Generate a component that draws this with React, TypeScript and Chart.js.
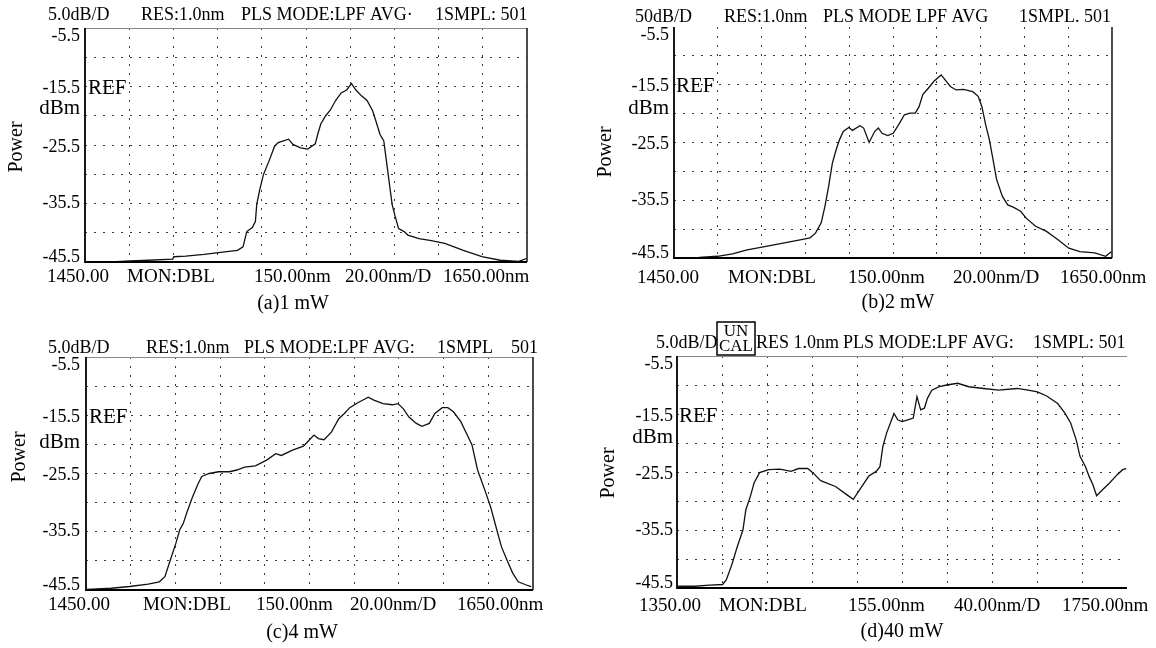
import React, { useEffect, useRef } from "react";
import { Chart, registerables } from "chart.js";

Chart.register(...registerables);

// ---------------- data ----------------
const aWavelength = [1450.0, 1462.1, 1470.4, 1478.8, 1489.7, 1490.2, 1495.6, 1503.9, 1512.3, 1519.0, 1521.5, 1523.2, 1525.7, 1527.1, 1527.7, 1529.1, 1530.7, 1533.2, 1535.8, 1537.4, 1542.1, 1544.1, 1547.5, 1550.8, 1554.2, 1555.5, 1556.7, 1558.9, 1560.9, 1563.4, 1565.9, 1568.4, 1570.6, 1572.6, 1575.1, 1577.6, 1580.1, 1581.8, 1583.5, 1585.2, 1586.8, 1588.0, 1589.0, 1590.2, 1591.9, 1594.4, 1596.1, 1601.1, 1606.1, 1612.8, 1621.2, 1629.6, 1637.9, 1646.3, 1649.7];
const aPower = [-45.5, -45.5, -45.3, -45.2, -45.0, -44.6, -44.5, -44.2, -43.8, -43.5, -42.9, -40.3, -39.6, -38.6, -35.7, -33.1, -30.6, -28.3, -25.7, -25.1, -24.5, -25.4, -26.0, -26.2, -25.3, -23.4, -21.9, -20.5, -19.6, -17.9, -16.6, -16.1, -15.0, -16.1, -17.1, -17.9, -19.6, -21.6, -23.7, -24.8, -29.4, -32.9, -35.7, -37.5, -39.8, -40.3, -40.9, -41.5, -41.8, -42.3, -43.5, -44.6, -45.2, -45.4, -44.9];

const bWavelength = [1450.5, 1461.5, 1469.9, 1476.7, 1483.4, 1490.2, 1498.6, 1507.0, 1512.1, 1514.6, 1517.2, 1518.9, 1520.6, 1522.3, 1524.0, 1525.6, 1527.3, 1529.8, 1531.5, 1534.9, 1536.6, 1539.1, 1541.6, 1543.3, 1545.0, 1547.6, 1550.1, 1552.6, 1555.2, 1557.7, 1560.2, 1561.9, 1563.6, 1566.1, 1568.7, 1572.0, 1573.7, 1576.2, 1578.8, 1582.2, 1586.4, 1588.9, 1590.6, 1592.3, 1594.0, 1595.7, 1597.3, 1599.9, 1602.4, 1604.9, 1608.3, 1610.8, 1615.1, 1620.1, 1625.2, 1630.3, 1635.3, 1642.1, 1647.1, 1649.7];
const bPower = [-45.5, -45.4, -45.2, -44.8, -44.1, -43.6, -43.0, -42.4, -42.0, -41.2, -39.4, -36.6, -33.1, -29.1, -26.8, -25.0, -23.6, -22.9, -23.4, -22.6, -23.0, -25.5, -23.6, -23.0, -23.9, -24.3, -23.9, -22.4, -20.7, -20.4, -20.4, -19.3, -17.2, -16.1, -14.9, -13.8, -14.6, -15.8, -16.4, -16.3, -16.7, -17.5, -19.3, -22.4, -25.0, -28.5, -31.9, -34.8, -36.3, -36.7, -37.4, -38.6, -40.0, -40.9, -42.3, -43.8, -44.4, -44.6, -45.2, -44.4];

const cWavelength = [1450.5, 1461.3, 1469.5, 1477.8, 1482.8, 1485.3, 1487.7, 1490.2, 1491.9, 1493.5, 1495.2, 1497.7, 1500.2, 1501.8, 1505.1, 1509.3, 1514.2, 1517.5, 1520.9, 1525.8, 1530.8, 1534.9, 1537.4, 1542.4, 1547.3, 1549.8, 1552.0, 1554.0, 1556.5, 1559.8, 1563.1, 1565.6, 1568.0, 1571.4, 1576.3, 1578.8, 1582.9, 1587.1, 1589.6, 1592.0, 1594.5, 1597.8, 1600.3, 1603.6, 1606.1, 1609.4, 1611.9, 1614.4, 1617.7, 1620.2, 1622.7, 1625.2, 1628.5, 1631.0, 1633.4, 1635.9, 1638.4, 1640.9, 1643.4, 1646.7, 1649.2];
const cPower = [-45.4, -45.2, -44.9, -44.5, -44.1, -43.2, -40.4, -37.5, -35.2, -34.1, -32.1, -29.5, -27.2, -26.0, -25.5, -25.2, -25.2, -24.9, -24.4, -24.2, -23.2, -22.1, -22.4, -21.5, -20.8, -19.8, -18.9, -19.5, -19.7, -18.4, -16.1, -15.2, -14.2, -13.4, -12.4, -12.9, -13.5, -13.7, -13.5, -14.4, -15.8, -16.9, -17.4, -16.9, -15.2, -14.2, -14.2, -14.9, -16.6, -18.6, -20.6, -24.9, -28.4, -31.2, -34.6, -38.1, -40.4, -42.6, -44.1, -44.6, -44.9];

const dWavelength = [1351.0, 1365.8, 1379.0, 1390.5, 1393.8, 1398.7, 1403.7, 1408.6, 1411.2, 1415.2, 1418.5, 1423.4, 1431.6, 1441.5, 1451.4, 1458.0, 1466.2, 1471.2, 1477.7, 1490.9, 1500.8, 1506.7, 1512.3, 1520.5, 1527.1, 1530.4, 1533.0, 1536.3, 1539.6, 1542.9, 1546.2, 1550.2, 1555.1, 1560.0, 1563.3, 1566.6, 1569.9, 1572.6, 1576.5, 1583.1, 1589.7, 1599.5, 1609.4, 1622.6, 1635.8, 1652.2, 1662.1, 1670.3, 1678.6, 1688.4, 1695.0, 1700.0, 1704.9, 1708.2, 1713.1, 1716.4, 1719.7, 1723.0, 1728.0, 1734.5, 1741.1, 1746.1, 1749.4];
const dPower = [-45.2, -45.2, -45.0, -44.9, -44.1, -41.5, -38.3, -35.5, -32.0, -29.7, -27.4, -25.6, -25.1, -25.0, -25.4, -24.9, -24.9, -25.7, -27.0, -28.0, -29.4, -30.2, -28.6, -26.2, -25.4, -24.6, -21.1, -18.8, -17.1, -15.4, -16.5, -16.8, -16.5, -16.2, -12.5, -14.8, -14.5, -12.8, -11.4, -10.8, -10.5, -10.2, -10.8, -11.1, -11.4, -11.1, -11.4, -11.7, -12.4, -13.7, -15.4, -17.1, -20.0, -22.8, -24.6, -26.3, -27.7, -29.6, -28.6, -27.4, -26.0, -25.1, -24.9];

const yTickValues = [-5.5, -15.5, -25.5, -35.5, -45.5];
const yTickLabels = ["-5.5", "-15.5", "-25.5", "-35.5", "-45.5"];

const aHeader = ["5.0dB/D", "RES:1.0nm", "PLS MODE:LPF AVG\u00b7", "1SMPL: 501"];
const bHeader = ["50dB/D", "RES:1.0nm", "PLS MODE LPF AVG", "1SMPL. 501"];
const cHeader = ["5.0dB/D", "RES:1.0nm", "PLS MODE:LPF AVG:", "1SMPL", "501"];
const dHeader = ["5.0dB/D", "RES 1.0nm", "PLS MODE:LPF AVG:", "1SMPL: 501"];

const aFooter = ["1450.00", "MON:DBL", "150.00nm", "20.00nm/D", "1650.00nm"];
const bFooter = ["1450.00", "MON:DBL", "150.00nm", "20.00nm/D", "1650.00nm"];
const cFooter = ["1450.00", "MON:DBL", "150.00nm", "20.00nm/D", "1650.00nm"];
const dFooter = ["1350.00", "MON:DBL", "155.00nm", "40.00nm/D", "1750.00nm"];

const captions = ["(a)1 mW", "(b)2 mW", "(c)4 mW", "(d)40 mW"];

// ---------------- layout / style ----------------
const SERIF = '"Liberation Serif", "Times New Roman", serif';
const yLabelNudge = [8, 2, 2, 0, -5];

type Layout = {
  box: { x: number; y: number; w: number; h: number };
  area: { l: number; t: number; r: number; b: number };
  headerY: number;
  headerX: number[];
  footerY: number;
  footerX: number[];
  caption: { x: number; y: number };
  yLabelRight: number;
  refX: number;
  dbm: { x: number; y: number };
  power: { x: number; y: number };
  topBorder: boolean;
  rightBorder: boolean;
  uncal?: { x: number; y: number; w: number; h: number };
};

const layoutA: Layout = {
  box: { x: 0, y: 0, w: 578, h: 320 },
  area: { l: 85, t: 28, r: 527, b: 262 },
  headerY: 15, headerX: [48, 141, 241, 435],
  footerY: 277, footerX: [47, 127, 254, 345, 443],
  caption: { x: 293, y: 304 },
  yLabelRight: 80, refX: 88, dbm: { x: 80, y: 108 }, power: { x: 17, y: 147 },
  topBorder: true, rightBorder: true,
};
const layoutB: Layout = {
  box: { x: 578, y: 0, w: 578, h: 320 },
  area: { l: 96, t: 27, r: 534, b: 258 },
  headerY: 17, headerX: [57, 146, 245, 441],
  footerY: 278, footerX: [59, 150, 270, 375, 482],
  caption: { x: 320, y: 303 },
  yLabelRight: 91, refX: 98, dbm: { x: 91, y: 108 }, power: { x: 28, y: 152 },
  topBorder: false, rightBorder: true,
};
const layoutC: Layout = {
  box: { x: 0, y: 320, w: 578, h: 328 },
  area: { l: 86, t: 37, r: 533, b: 270 },
  headerY: 28, headerX: [48, 146, 244, 437, 511],
  footerY: 285, footerX: [48, 143, 256, 350, 457],
  caption: { x: 302, y: 313 },
  yLabelRight: 80, refX: 89, dbm: { x: 80, y: 122 }, power: { x: 20, y: 137 },
  topBorder: true, rightBorder: true,
};
const layoutD: Layout = {
  box: { x: 578, y: 320, w: 578, h: 328 },
  area: { l: 99, t: 36, r: 549, b: 268 },
  headerY: 23, headerX: [78, 178, 265, 455],
  footerY: 286, footerX: [61, 141, 270, 376, 484],
  caption: { x: 324, y: 312 },
  yLabelRight: 95, refX: 101, dbm: { x: 95, y: 117 }, power: { x: 31, y: 153 },
  topBorder: true, rightBorder: false,
  uncal: { x: 139, y: 2, w: 38, h: 33 },
};

type PanelProps = {
  wl: number[];
  pw: number[];
  xMin: number;
  xMax: number;
  xStep: number;
  header: string[];
  footer: string[];
  caption: string;
  L: Layout;
};

function makeOsaPlugin(p: PanelProps) {
  return {
    id: "osaText",
    afterDraw(chart: any) {
      const ctx: CanvasRenderingContext2D = chart.ctx;
      const a = chart.chartArea;
      const ys = chart.scales.y;
      const L = p.L;
      ctx.save();
      // frame
      if (L.topBorder) {
        ctx.strokeStyle = "#8a8a8a";
        ctx.lineWidth = 1;
        ctx.beginPath();
        ctx.moveTo(a.left, a.top + 0.5);
        ctx.lineTo(a.right, a.top + 0.5);
        ctx.stroke();
      }
      if (L.rightBorder) {
        ctx.strokeStyle = "#000";
        ctx.lineWidth = 1.4;
        ctx.beginPath();
        ctx.moveTo(a.right, a.top);
        ctx.lineTo(a.right, a.bottom);
        ctx.stroke();
      }
      ctx.strokeStyle = "#000";
      ctx.lineWidth = 1.8;
      ctx.beginPath();
      ctx.moveTo(a.left, a.top);
      ctx.lineTo(a.left, a.bottom);
      ctx.lineTo(a.right, a.bottom);
      ctx.stroke();

      ctx.fillStyle = "#000";
      ctx.textBaseline = "middle";
      // y labels
      ctx.font = `18px ${SERIF}`;
      ctx.textAlign = "right";
      yTickValues.forEach((v, i) => {
        ctx.fillText(yTickLabels[i], L.yLabelRight, ys.getPixelForValue(v) + yLabelNudge[i]);
      });
      // REF and dBm
      ctx.font = `21px ${SERIF}`;
      ctx.textAlign = "left";
      ctx.fillText("REF", L.refX, ys.getPixelForValue(-15.5) + 2);
      ctx.textAlign = "right";
      ctx.fillText("dBm", L.dbm.x, L.dbm.y);
      // Power
      ctx.save();
      ctx.translate(L.power.x, L.power.y);
      ctx.rotate(-Math.PI / 2);
      ctx.font = `20px ${SERIF}`;
      ctx.textAlign = "center";
      ctx.fillText("Power", 0, 0);
      ctx.restore();
      // header
      ctx.font = `18px ${SERIF}`;
      ctx.textAlign = "left";
      p.header.forEach((t, i) => ctx.fillText(t, L.headerX[i], L.headerY));
      // UN CAL box
      if (L.uncal) {
        const u = L.uncal;
        ctx.strokeStyle = "#000";
        ctx.lineWidth = 1.5;
        ctx.strokeRect(u.x, u.y, u.w, u.h);
        ctx.font = `17px ${SERIF}`;
        ctx.textAlign = "center";
        ctx.fillText("UN", u.x + u.w / 2, u.y + u.h * 0.28);
        ctx.fillText("CAL", u.x + u.w / 2, u.y + u.h * 0.74);
        ctx.textAlign = "left";
      }
      // footer
      ctx.font = `18px ${SERIF}`;
      p.footer.forEach((t, i) => {
        ctx.save();
        ctx.translate(L.footerX[i], L.footerY);
        ctx.scale(1.06, 1);
        ctx.fillText(t, 0, 0);
        ctx.restore();
      });
      // caption
      ctx.font = `20px ${SERIF}`;
      ctx.textAlign = "center";
      ctx.fillText(p.caption, L.caption.x, L.caption.y);
      ctx.restore();
    },
  };
}

function gridColor(min: number, max: number) {
  return (c: any) => {
    const v = c.tick ? c.tick.value : NaN;
    if (Math.abs(v - min) < 1e-6 || Math.abs(v - max) < 1e-6) return "rgba(0,0,0,0)";
    return "#3a3a3a";
  };
}

function Panel(p: PanelProps) {
  const ref = useRef<HTMLCanvasElement>(null);
  useEffect(() => {
    const canvas = ref.current;
    if (!canvas) return;
    const L = p.L;
    const chart = new Chart(canvas, {
      type: "line",
      data: {
        datasets: [
          {
            data: p.wl.map((x, i) => ({ x, y: p.pw[i] })),
            borderColor: "#111",
            borderWidth: 1.3,
            pointRadius: 0,
            tension: 0,
            fill: false,
          },
        ],
      },
      options: {
        animation: false,
        responsive: false,
        maintainAspectRatio: false,
        events: [],
        layout: {
          padding: {
            left: L.area.l,
            top: L.area.t,
            right: L.box.w - L.area.r,
            bottom: L.box.h - L.area.b,
          },
        },
        plugins: { legend: { display: false }, tooltip: { enabled: false }, title: { display: false } },
        scales: {
          x: {
            type: "linear",
            min: p.xMin,
            max: p.xMax,
            ticks: { display: false, stepSize: p.xStep },
            grid: { drawTicks: false, color: gridColor(p.xMin, p.xMax), lineWidth: 1 },
            border: { display: false, dash: [2, 7] },
          },
          y: {
            type: "linear",
            min: -45.5,
            max: -5.5,
            ticks: { display: false, stepSize: 5 },
            grid: { drawTicks: false, color: gridColor(-45.5, -5.5), lineWidth: 1 },
            border: { display: false, dash: [2, 7] },
          },
        },
      } as any,
      plugins: [makeOsaPlugin(p) as any],
    });
    return () => chart.destroy();
  }, []);
  return (
    <canvas
      ref={ref}
      width={p.L.box.w}
      height={p.L.box.h}
      style={{ position: "absolute", left: p.L.box.x, top: p.L.box.y, width: p.L.box.w, height: p.L.box.h }}
    />
  );
}

export default function App() {
  return (
    <div style={{ position: "absolute", left: 0, top: 0, width: 1156, height: 648, background: "#fff", overflow: "hidden" }}>
      <Panel wl={aWavelength} pw={aPower} xMin={1450} xMax={1650} xStep={20} header={aHeader} footer={aFooter} caption={captions[0]} L={layoutA} />
      <Panel wl={bWavelength} pw={bPower} xMin={1450} xMax={1650} xStep={20} header={bHeader} footer={bFooter} caption={captions[1]} L={layoutB} />
      <Panel wl={cWavelength} pw={cPower} xMin={1450} xMax={1650} xStep={20} header={cHeader} footer={cFooter} caption={captions[2]} L={layoutC} />
      <Panel wl={dWavelength} pw={dPower} xMin={1350} xMax={1750} xStep={40} header={dHeader} footer={dFooter} caption={captions[3]} L={layoutD} />
    </div>
  );
}
